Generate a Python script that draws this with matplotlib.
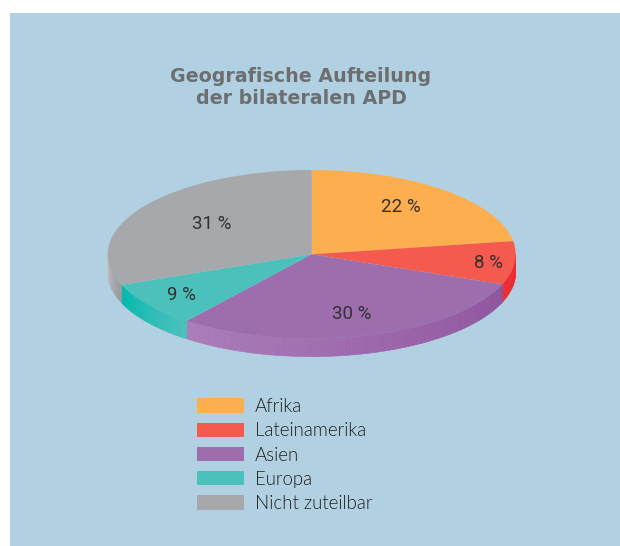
import matplotlib
matplotlib.use("Agg")
import matplotlib.pyplot as plt
from matplotlib.patches import Rectangle
import numpy as np

labels = ["Afrika", "Lateinamerika", "Asien", "Europa", "Nicht zuteilbar"]
percent_labels = [22, 8, 30, 9, 31]
# slice sizes, the printed labels are rounded
shares = [22.5, 8.3, 29.7, 8.6, 30.9]
colors = ["#fdae4e", "#f45b4e", "#9d6dae", "#4cc1bc", "#a6a8ab"]
side_left = ["#fdae4e", "#ee2a30", "#ab7db9", "#00b8ae", "#c2c3c5"]
side_right = ["#fdae4e", "#ee2a30", "#8f539e", "#4cc1bc", "#97999c"]
label_radius = [0.73, 0.87, 0.71, 0.79, 0.62]
label_angle = [36.8, 95, 164, 234, 308]
title = "Geografische Aufteilung\nder bilateralen APD"

W, H = 620, 546
cx, cy, rx, ry = 311.7, 254.3, 204.0, 84.3
depth = 18.0 / ry

fig = plt.figure(figsize=(W / 100, H / 100), dpi=100, facecolor="white")
fig.add_artist(Rectangle((10 / W, 0), 1 - 10 / W, 1 - 13 / H, transform=fig.transFigure,
                         facecolor="#b1d1e2", edgecolor="none", zorder=-5))

ax = fig.add_axes([0, 0, 1, 1])
wedges, _ = ax.pie(shares, colors=colors, startangle=90, counterclock=False,
                   wedgeprops={"linewidth": 0, "zorder": 3})
ax.set_aspect("auto")
ax.set_xlim(-cx / rx, (W - cx) / rx)
ax.set_ylim((cy - H) / ry, cy / ry)

# side wall, only the front half of the ellipse shows
edges = np.cumsum([0] + shares) * 3.6
for i in range(len(shares)):
    a0 = max(edges[i], 90)
    a1 = min(edges[i + 1], 270)
    if a1 <= a0:
        continue
    steps = np.linspace(a0, a1, int(a1 - a0) + 2)
    c0 = np.array(matplotlib.colors.to_rgb(side_right[i]))
    c1 = np.array(matplotlib.colors.to_rgb(side_left[i]))
    for j in range(len(steps) - 1):
        t = np.radians(steps[j:j + 2])
        x = np.sin(t)
        y = np.cos(t)
        c = c0 + (c1 - c0) * j / max(len(steps) - 2, 1)
        ax.fill([x[0], x[1], x[1], x[0]], [y[0], y[1], y[1] - depth, y[0] - depth],
                color=c, lw=0.4, zorder=2)

for i in range(len(percent_labels)):
    a = np.radians(label_angle[i])
    ax.text(label_radius[i] * np.sin(a), label_radius[i] * np.cos(a) - 2 / ry, f"{percent_labels[i]} %",
            ha="center", va="center", fontsize=13.5, family="Roboto", fontweight=400,
            color="#333132", zorder=4)

fig.text(301 / W, 1 - 87 / H, title, ha="center", va="center", fontsize=13.7, fontweight="bold",
         family="DejaVu Sans", color="#6d6e70", linespacing=1.2)

fs = 13.4
fpx = fs * 100 / 72
leg = fig.legend(wedges, labels, loc="upper left", bbox_to_anchor=(197 / W, 1 - 398 / H),
                 frameon=False, handlelength=47 / fpx, handleheight=15 / fpx,
                 handletextpad=11 / fpx, labelspacing=0.39, borderaxespad=0, borderpad=0,
                 prop={"family": "Lato", "size": fs, "weight": 300}, labelcolor="#1f1d1e")

fig.savefig("out.png", dpi=100)
